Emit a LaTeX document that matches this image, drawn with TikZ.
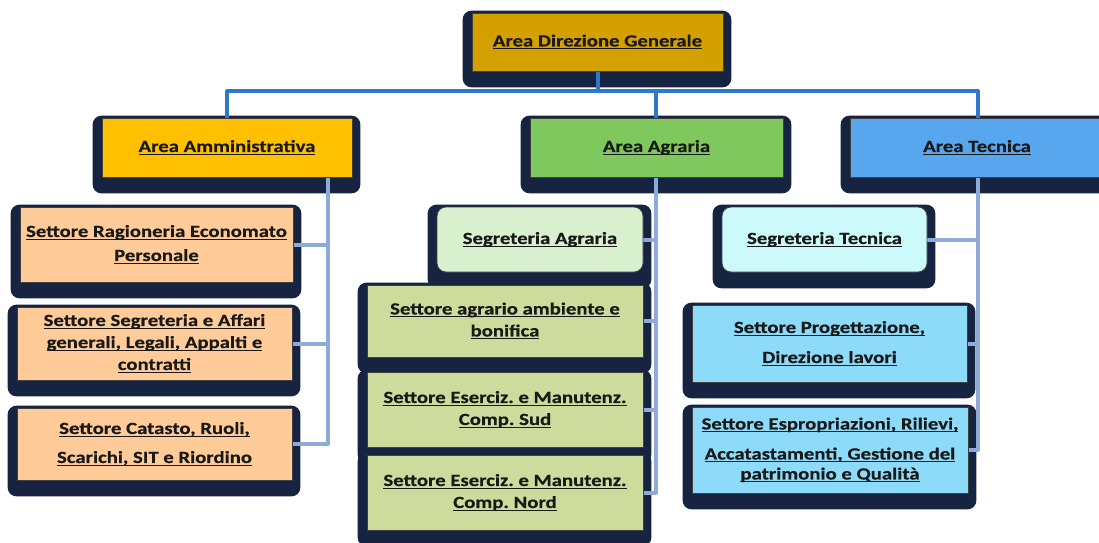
\documentclass[tikz,border=0pt]{standalone}
\usepackage{fontspec}
\newfontfamily\boxfont{Carlito}[FakeStretch=1.22,FakeBold=0.5]
\usetikzlibrary{calc}
\pgfdeclarelayer{shadowlayer}
\pgfdeclarelayer{connlayer}
\pgfsetlayers{shadowlayer,connlayer,main}
\definecolor{cTop}{RGB}{212,160,0}
\definecolor{cAmm}{RGB}{255,192,0}
\definecolor{cAgr}{RGB}{126,200,94}
\definecolor{cTec}{RGB}{88,166,238}
\definecolor{cPeach}{RGB}{255,204,153}
\definecolor{cLgreen}{RGB}{216,240,206}
\definecolor{cOlive}{RGB}{205,220,156}
\definecolor{cLcyan}{RGB}{204,249,250}
\definecolor{cSky}{RGB}{142,219,249}
\definecolor{cShadow}{RGB}{22,36,66}
\definecolor{cMain}{RGB}{47,119,204}
\definecolor{cSub}{RGB}{142,170,219}
\newcommand\myul[1]{\setbox0=\hbox{#1}\rlap{\rule[-3pt]{\wd0}{1.2pt}}\box0}
\tikzset{
  face/.style={draw=black!75, line width=0.8pt, inner sep=0pt, text=black!90,
    align=center, font=\boxfont\bfseries\fontsize{17}{22}\selectfont\frenchspacing},
  roundface/.style={face, rounded corners=9pt},
  mainline/.style={draw=cMain, line width=4pt, line join=round},
  subline/.style={draw=cSub, line width=4pt, line join=round},
  shadowbox/.style={fill=cShadow, rounded corners=9pt}
}
\begin{document}
\frenchspacing
\begin{tikzpicture}[x=1pt,y=-1pt]
\useasboundingbox (0,0) rectangle (1099,542);
% faces
\node[face, fill=cTop, minimum width=251pt, minimum height=58pt] (top) at (597.5,42) {\myul{Area Direzione Generale}};
\node[face, fill=cAmm, minimum width=250pt, minimum height=59pt] (amm) at (227,147.5) {\myul{Area Amministrativa}};
\node[face, fill=cAgr, minimum width=253pt, minimum height=59pt] (agr) at (656.5,147.5) {\myul{Area Agraria}};
\node[face, fill=cTec, minimum width=254pt, minimum height=59pt] (tec) at (977,147.5) {\myul{Area Tecnica}};
\node[face, fill=cPeach, minimum width=273pt, minimum height=75pt] (rag) at (156.5,244.5) {\myul{Settore Ragioneria Economato}\\[2pt]\myul{Personale}};
\node[face, fill=cPeach, minimum width=275pt, minimum height=73pt] (seg) at (154.5,343.5) {\myul{Settore Segreteria e Affari}\\\myul{generali, Legali, Appalti e}\\\myul{contratti}};
\node[face, fill=cPeach, minimum width=275pt, minimum height=72pt] (cat) at (154.5,444) {\myul{Settore Catasto, Ruoli,}\\[7pt]\myul{Scarichi, SIT e Riordino}};
\node[roundface, fill=cLgreen, minimum width=206pt, minimum height=65pt] (sagr) at (540,239.5) {\myul{Segreteria Agraria}};
\node[face, fill=cOlive, minimum width=276pt, minimum height=72pt] (amb) at (505,321) {\myul{Settore agrario ambiente e}\\\myul{bonifica}};
\node[face, fill=cOlive, minimum width=276pt, minimum height=75pt] (sud) at (505,409.5) {\myul{Settore Eserciz. e Manutenz.}\\\myul{Comp. Sud}};
\node[face, fill=cOlive, minimum width=276pt, minimum height=75pt] (nord) at (505,492.5) {\myul{Settore Eserciz. e Manutenz.}\\\myul{Comp. Nord}};
\node[roundface, fill=cLcyan, minimum width=205pt, minimum height=65pt] (stec) at (824.5,239.5) {\myul{Segreteria Tecnica}};
\node[face, fill=cSky, minimum width=275pt, minimum height=77pt] (prog) at (829.5,343.5) {\myul{Settore Progettazione,}\\[8pt]\myul{Direzione lavori}};
\node[face, fill=cSky, minimum width=276pt, minimum height=86pt] (esp) at (830,450) {\myul{Settore Espropriazioni, Rilievi,}\\[8pt]\myul{Accatastamenti, Gestione del}\\[-2pt]\myul{patrimonio e Qualità}};
% shadows
\begin{pgfonlayer}{shadowlayer}
\foreach \n in {top,amm,agr,tec,rag,seg,cat,sagr,amb,sud,nord,stec,prog,esp}{
  \fill[shadowbox] ([xshift=-9pt,yshift=2pt]\n.north west) rectangle ([xshift=8pt,yshift=-16pt]\n.south east);
}
\end{pgfonlayer}
% connectors
\begin{pgfonlayer}{connlayer}
\coordinate (bus) at (0,91);
\coordinate (av) at (328,0);
\coordinate (gv) at (656,0);
\coordinate (tv) at (978,0);
\draw[mainline] (top.south) -- (top.south |- bus);
\draw[mainline] (amm.north) -- (amm.north |- bus) -| (tv |- tec.north);
\draw[mainline] (gv |- agr.north) -- (gv |- bus);
% Amministrativa
\draw[subline] (av |- amm.south) |- (cat.east);
\draw[subline] (rag.east) -- (rag.east -| av);
\draw[subline] (seg.east) -- (seg.east -| av);
% Agraria
\draw[subline] (gv |- agr.south) |- (nord.east);
\draw[subline] (sagr.east) -- (sagr.east -| gv);
\draw[subline] (amb.east) -- (amb.east -| gv);
\draw[subline] (sud.east) -- (sud.east -| gv);
% Tecnica
\draw[subline] (tv |- tec.south) |- (esp.east);
\draw[subline] (stec.east) -- (stec.east -| tv);
\draw[subline] (prog.east) -- (prog.east -| tv);
\end{pgfonlayer}
\end{tikzpicture}
\end{document}
